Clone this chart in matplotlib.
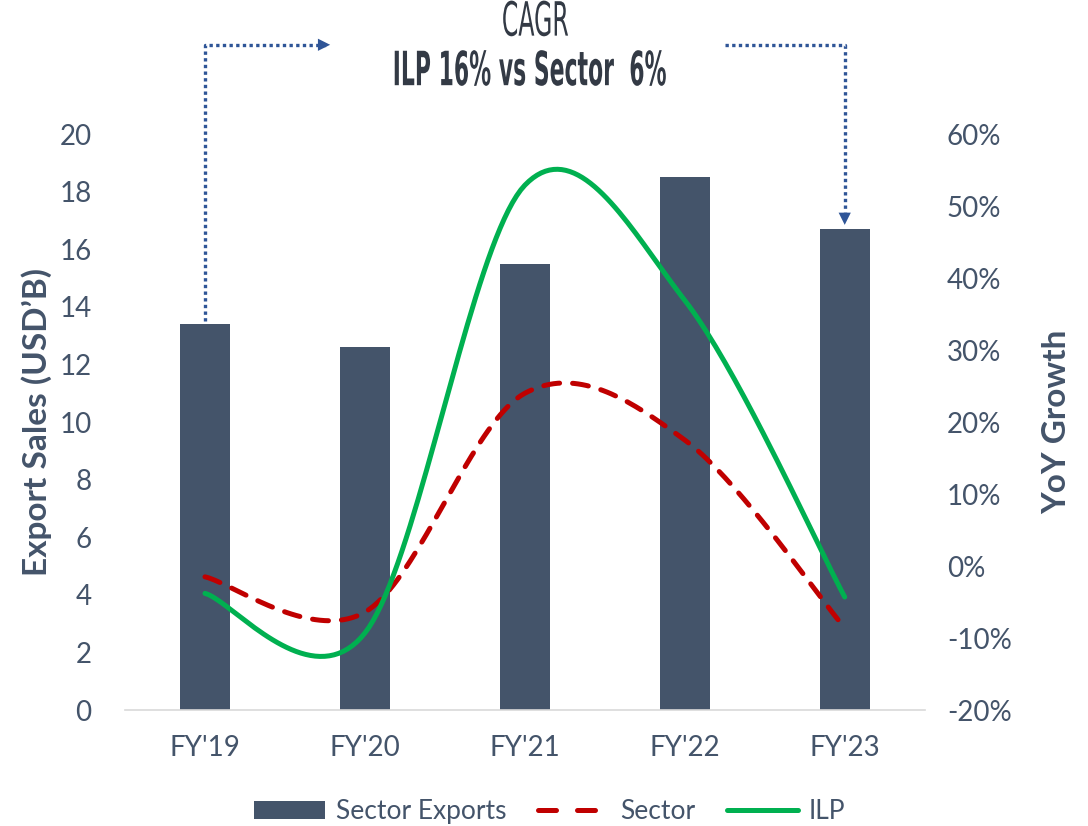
import matplotlib.pyplot as plt
import numpy as np
from matplotlib import patheffects
from matplotlib.lines import Line2D
from matplotlib.patches import Patch
from matplotlib.ticker import FuncFormatter
from matplotlib.transforms import Affine2D

YEARS = ["FY'19", "FY'20", "FY'21", "FY'22", "FY'23"]
SECTOR_EXPORTS = [13.4, 12.6, 15.5, 18.5, 16.7]   # USD bn
SECTOR_GROWTH = [-1.5, -6.4, 24.0, 17.5, -8.6]   # % YoY
ILP_GROWTH = [-3.8, -9.3, 52.9, 36.9, -4.3]      # % YoY

TEXT = "#44546A"
BAR = "#44546A"
RED = "#C00000"
GREEN = "#00B050"
ARROW = "#2F5597"
TITLE = "#333A45"

plt.rcParams["font.family"] = ["Lato", "DejaVu Sans"]


class SqueezeX(patheffects.AbstractPathEffect):
    """Narrow a centred text horizontally (poor man's condensed face)."""

    def __init__(self, text, sx):
        super().__init__()
        self.text = text
        self.sx = sx

    def draw_path(self, renderer, gc, tpath, affine, rgbFace=None):
        cx = self.text.get_transform().transform(self.text.get_position())[0]
        squeeze = Affine2D().translate(-cx, 0).scale(self.sx, 1).translate(cx, 0)
        renderer.draw_path(gc, tpath, affine + squeeze, rgbFace)


def smooth_curve(xs, ys, n=40):
    # Bezier smoothing through every point (same idea as spreadsheet "smoothed line")
    p = np.column_stack([xs, ys]).astype(float)
    ext = np.vstack([p[0], p, p[-1]])
    out = []
    for i in range(len(p) - 1):
        p0, p1, p2, p3 = ext[i], ext[i + 1], ext[i + 2], ext[i + 3]
        c1 = p1 + (p2 - p0) / 6.0
        c2 = p2 - (p3 - p1) / 6.0
        t = np.linspace(0, 1, n)[:, None]
        seg = ((1 - t) ** 3) * p1 + 3 * ((1 - t) ** 2) * t * c1 + 3 * (1 - t) * t ** 2 * c2 + t ** 3 * p2
        out.append(seg if i == 0 else seg[1:])
    seg = np.vstack(out)
    return seg[:, 0], seg[:, 1]


fig = plt.figure(figsize=(10.88, 8.26), dpi=100)
ax = fig.add_axes([0.1149, 0.1404, 0.735, 0.6973])
ax2 = ax.twinx()

x = np.arange(len(YEARS))
ax.bar(x, SECTOR_EXPORTS, width=0.31, color=BAR, zorder=2)
ax.set_xlim(-0.5, len(YEARS) - 0.5)
ax.set_ylim(0, 20)
ax.set_yticks(np.arange(0, 21, 2))
ax.set_xticks(x)
ax.set_xticklabels(YEARS)

sx, sy = smooth_curve(x, SECTOR_GROWTH)
ax2.plot(sx, sy, color=RED, lw=3.6, dashes=(3.2, 2.6), dash_capstyle="round", zorder=3)
gx, gy = smooth_curve(x, ILP_GROWTH)
ax2.plot(gx, gy, color=GREEN, lw=3.6, solid_capstyle="round", zorder=4)
ax2.set_ylim(-20, 60)
ax2.set_yticks(np.arange(-20, 61, 10))
ax2.yaxis.set_major_formatter(FuncFormatter(lambda v, _: f"{v:.0f}%"))

for a in (ax, ax2):
    for s in a.spines.values():
        s.set_visible(False)
    a.tick_params(length=0, labelsize=20, colors=TEXT)
ax.spines["bottom"].set_visible(True)
ax.spines["bottom"].set_color("#D9D9D9")
ax.spines["bottom"].set_linewidth(1.2)
ax.tick_params(axis="x", pad=18)
ax.tick_params(axis="y", pad=24)
ax2.tick_params(axis="y", pad=16)

ax.set_ylabel("Export Sales (USD\u2019B)", fontsize=24, fontweight="bold", color=TEXT, labelpad=5)
ax2.set_ylabel("YoY Growth", fontsize=24, fontweight="bold", color=TEXT, labelpad=22)

# CAGR callout connectors from the first and last bars
top = 23.1
ax.plot([0, 0, 0.76], [SECTOR_EXPORTS[0] + 0.1, top, top], color=ARROW, lw=2.4,
        linestyle=(0, (1, 1)), clip_on=False, zorder=5)
ax.annotate("", xy=(0.8, top), xytext=(0.7, top),
            arrowprops=dict(arrowstyle="-|>", color=ARROW, lw=0, mutation_scale=22),
            annotation_clip=False)
ax.plot([3.25, 4, 4], [top, top, SECTOR_EXPORTS[-1] + 0.6], color=ARROW, lw=2.4,
        linestyle=(0, (1, 1)), clip_on=False, zorder=5)
ax.annotate("", xy=(4, SECTOR_EXPORTS[-1] + 0.05), xytext=(4, SECTOR_EXPORTS[-1] + 0.7),
            arrowprops=dict(arrowstyle="-|>", color=ARROW, lw=0, mutation_scale=22),
            annotation_clip=False)

t1 = fig.text(0.492, 0.972, "CAGR", ha="center", va="center", fontsize=34, color=TITLE,
              family="DejaVu Sans")
t1.set_path_effects([SqueezeX(t1, 0.50)])
t2 = fig.text(0.487, 0.912, "ILP 16% vs Sector  6%", ha="center", va="center", fontsize=34,
              fontweight="bold", color=TITLE, family="DejaVu Sans")
t2.set_path_effects([SqueezeX(t2, 0.465)])

handles = [
    Patch(facecolor=BAR, label="Sector Exports"),
    Line2D([], [], color=RED, lw=3.6, dashes=(3.6, 4.2), dash_capstyle="round", label="Sector"),
    Line2D([], [], color=GREEN, lw=3.6, solid_capstyle="round", label="ILP"),
]
leg = fig.legend(handles=handles, loc="center", bbox_to_anchor=(0.505, 0.017), ncol=3,
                 frameon=False, fontsize=19, handlelength=2.7, handleheight=0.7,
                 columnspacing=1.2, handletextpad=0.4)
for t in leg.get_texts():
    t.set_color(TEXT)

fig.savefig("out.png", dpi=100)
